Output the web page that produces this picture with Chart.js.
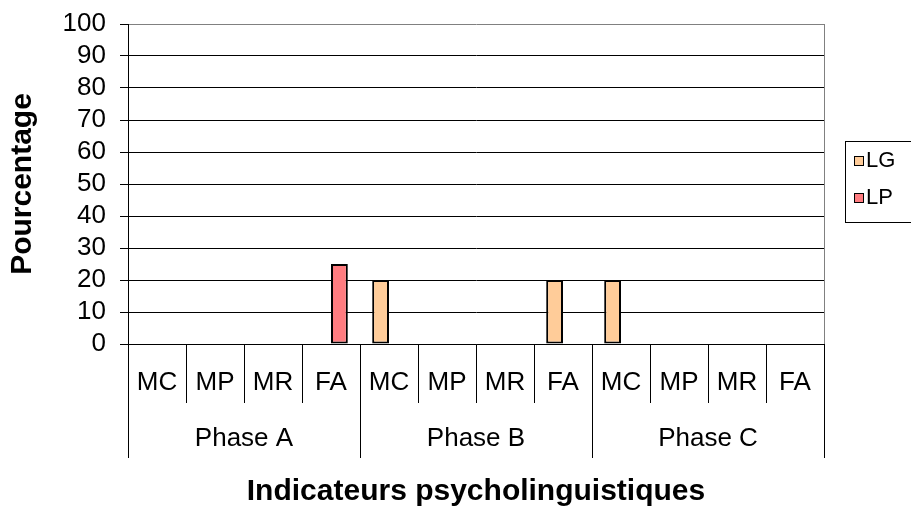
<!DOCTYPE html>
<html>
<head>
<meta charset="utf-8">
<script src="https://cdn.jsdelivr.net/npm/chart.js@4/dist/chart.umd.min.js"></script>
<style>
  html, body { margin: 0; padding: 0; background: #fff; }
  #wrap { width: 911px; height: 508px; position: relative; }
</style>
</head>
<body>
<div id="wrap"><canvas id="chart"></canvas></div>
<script>
// data
const indicators = ['MC', 'MP', 'MR', 'FA', 'MC', 'MP', 'MR', 'FA', 'MC', 'MP', 'MR', 'FA'];
const phases = ['Phase A', 'Phase B', 'Phase C'];
const lgValues = [0, 0, 0, 0, 20, 0, 0, 20, 20, 0, 0, 0];
const lpValues = [0, 0, 0, 25, 0, 0, 0, 0, 0, 0, 0, 0];

Chart.defaults.font.family = '"Liberation Sans", Arial, sans-serif';
Chart.defaults.color = '#000';

// Excel-style legend with a frame, drawn from the datasets
const framedLegend = {
  id: 'framedLegend',
  afterDraw(chart) {
    const ctx = chart.ctx;
    const area = chart.chartArea;
    const left = area.right + 21;
    ctx.save();
    // plot area right border
    ctx.strokeStyle = '#808080';
    ctx.lineWidth = 1;
    ctx.beginPath();
    ctx.moveTo(Math.round(area.right) + 0.5, area.top);
    ctx.lineTo(Math.round(area.right) + 0.5, area.bottom);
    ctx.stroke();

    ctx.strokeStyle = '#000';
    ctx.strokeRect(left + 0.5, 141.5, 100, 81);
    ctx.font = '22px "Liberation Sans", Arial, sans-serif';
    ctx.textBaseline = 'middle';
    chart.data.datasets.forEach((ds, i) => {
      const y = 161 + i * 37;
      ctx.fillStyle = ds.backgroundColor;
      ctx.fillRect(left + 9, y - 5, 10, 10);
      ctx.strokeRect(left + 9.5, y - 4.5, 9, 9);
      ctx.fillStyle = '#000';
      ctx.fillText(ds.label, left + 21, y);
    });
    ctx.restore();
  }
};

new Chart(document.getElementById('chart'), {
  type: 'bar',
  data: {
    labels: indicators,
    datasets: [
      {
        label: 'LG',
        data: lgValues,
        backgroundColor: '#FFCC99',
        borderColor: '#000',
        borderWidth: (c) => (c.raw ? 2 : 0),
        borderSkipped: false,
        categoryPercentage: 0.58,
        barPercentage: 1.0,
      },
      {
        label: 'LP',
        data: lpValues,
        backgroundColor: '#FF7C80',
        borderColor: '#000',
        borderWidth: (c) => (c.raw ? 2 : 0),
        borderSkipped: false,
        categoryPercentage: 0.58,
        barPercentage: 1.0,
      },
    ],
  },
  options: {
    responsive: true,
    maintainAspectRatio: false,
    animation: false,
    layout: { padding: { top: 24, right: 87, bottom: 0, left: 0 } },
    plugins: {
      legend: { display: false },
      tooltip: { enabled: false },
    },
    scales: {
      x: {
        type: 'category',
        offset: true,
        weight: 0,
        grid: { offset: true, drawOnChartArea: false, tickLength: 59, color: '#000' },
        border: { color: '#000' },
        ticks: { font: { size: 26 }, color: '#000', padding: -36, maxRotation: 0, autoSkip: false },
        afterFit: (s) => { s.height = 59; s.paddingLeft = 0; s.paddingRight = 0; },
      },
      x2: {
        type: 'category',
        labels: phases,
        position: 'bottom',
        offset: true,
        weight: 1,
        grid: { offset: true, drawOnChartArea: false, tickLength: 55, color: '#000' },
        border: { display: false },
        ticks: { font: { size: 26 }, color: '#000', padding: -35, maxRotation: 0, autoSkip: false },
        title: {
          display: true,
          text: 'Indicateurs psycholinguistiques',
          font: { size: 30, weight: 'bold' },
          color: '#000',
          padding: { top: 0, bottom: -2 },
        },
        afterFit: (s) => { s.height = 105; s.paddingLeft = 0; s.paddingRight = 0; },
      },
      y: {
        min: 0,
        max: 100,
        ticks: { stepSize: 10, autoSkip: false, font: { size: 26 }, color: '#000', padding: 14 },
        grid: {
          color: (c) => (c.tick && c.tick.value === 100 ? '#808080' : '#000'),
          tickColor: '#000',
          tickLength: 8,
        },
        border: { color: '#000' },
        title: {
          display: true,
          text: 'Pourcentage',
          font: { size: 30, weight: 'bold' },
          color: '#000',
          padding: { top: 5, bottom: 0 },
        },
        afterFit: (s) => { s.width = 128; s.paddingTop = 0; s.paddingBottom = 0; },
      },
    },
  },
  plugins: [framedLegend],
});
</script>
</body>
</html>
